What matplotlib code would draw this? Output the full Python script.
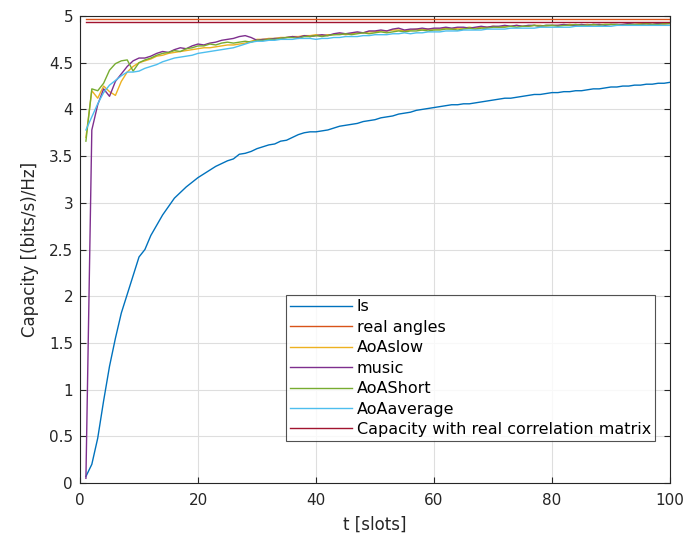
import numpy as np
import matplotlib
matplotlib.use("Agg")
import matplotlib.pyplot as plt

# time slots
t = np.arange(1, 101)

ls = [0.07, 0.20, 0.48, 0.88, 1.25, 1.55, 1.82, 2.02, 2.22, 2.42,
      2.50, 2.65, 2.76, 2.87, 2.96, 3.05, 3.11, 3.17, 3.22, 3.27,
      3.31, 3.35, 3.39, 3.42, 3.45, 3.47, 3.52, 3.53, 3.55, 3.58,
      3.60, 3.62, 3.63, 3.66, 3.67, 3.70, 3.73, 3.75, 3.76, 3.76,
      3.77, 3.78, 3.80, 3.82, 3.83, 3.84, 3.85, 3.87, 3.88, 3.89,
      3.91, 3.92, 3.93, 3.95, 3.96, 3.97, 3.99, 4.00, 4.01, 4.02,
      4.03, 4.04, 4.05, 4.05, 4.06, 4.06, 4.07, 4.08, 4.09, 4.10,
      4.11, 4.12, 4.12, 4.13, 4.14, 4.15, 4.16, 4.16, 4.17, 4.18,
      4.18, 4.19, 4.19, 4.20, 4.20, 4.21, 4.22, 4.22, 4.23, 4.24,
      4.24, 4.25, 4.25, 4.26, 4.26, 4.27, 4.27, 4.28, 4.28, 4.29]

real_angles = 4.972
real_corr = 4.938

aoa_slow = [3.70, 4.20, 4.12, 4.25, 4.19, 4.15, 4.30, 4.40, 4.46, 4.50,
            4.52, 4.54, 4.57, 4.58, 4.60, 4.61, 4.62, 4.63, 4.64, 4.65,
            4.66, 4.66, 4.67, 4.68, 4.69, 4.69, 4.70, 4.71, 4.73, 4.75,
            4.75, 4.76, 4.76, 4.77, 4.77, 4.78, 4.78, 4.79, 4.79, 4.80,
            4.79, 4.80, 4.80, 4.81, 4.80, 4.81, 4.82, 4.82, 4.83, 4.83,
            4.84, 4.84, 4.85, 4.85, 4.84, 4.85, 4.86, 4.85, 4.86, 4.86,
            4.86, 4.87, 4.86, 4.87, 4.87, 4.88, 4.87, 4.88, 4.88, 4.89,
            4.88, 4.89, 4.89, 4.90, 4.89, 4.89, 4.90, 4.90, 4.89, 4.90,
            4.90, 4.90, 4.91, 4.90, 4.90, 4.91, 4.90, 4.91, 4.91, 4.91,
            4.90, 4.91, 4.91, 4.91, 4.92, 4.91, 4.91, 4.92, 4.91, 4.92]

music = [0.05, 3.78, 4.05, 4.22, 4.14, 4.30, 4.38, 4.46, 4.52, 4.55,
         4.55, 4.57, 4.60, 4.62, 4.61, 4.64, 4.66, 4.65, 4.68, 4.70,
         4.69, 4.71, 4.72, 4.74, 4.75, 4.76, 4.78, 4.79, 4.77, 4.74,
         4.75, 4.75, 4.76, 4.76, 4.77, 4.78, 4.77, 4.79, 4.78, 4.79,
         4.80, 4.79, 4.81, 4.82, 4.81, 4.82, 4.83, 4.82, 4.84, 4.84,
         4.85, 4.84, 4.86, 4.87, 4.85, 4.86, 4.86, 4.87, 4.86, 4.87,
         4.87, 4.88, 4.87, 4.88, 4.88, 4.87, 4.88, 4.89, 4.88, 4.89,
         4.89, 4.90, 4.89, 4.90, 4.89, 4.90, 4.90, 4.89, 4.90, 4.90,
         4.90, 4.91, 4.90, 4.90, 4.91, 4.90, 4.91, 4.91, 4.90, 4.91,
         4.91, 4.91, 4.92, 4.91, 4.91, 4.92, 4.91, 4.92, 4.92, 4.92]

aoa_short = [3.66, 4.22, 4.20, 4.28, 4.42, 4.49, 4.52, 4.53, 4.41, 4.50,
             4.53, 4.55, 4.58, 4.60, 4.61, 4.63, 4.62, 4.65, 4.66, 4.68,
             4.68, 4.70, 4.69, 4.71, 4.72, 4.71, 4.72, 4.73, 4.72, 4.74,
             4.74, 4.75, 4.75, 4.76, 4.77, 4.77, 4.76, 4.78, 4.78, 4.79,
             4.78, 4.79, 4.80, 4.80, 4.81, 4.80, 4.81, 4.82, 4.81, 4.82,
             4.83, 4.82, 4.83, 4.84, 4.83, 4.84, 4.84, 4.85, 4.84, 4.85,
             4.85, 4.86, 4.86, 4.85, 4.86, 4.87, 4.86, 4.87, 4.87, 4.88,
             4.88, 4.88, 4.89, 4.88, 4.89, 4.89, 4.90, 4.89, 4.90, 4.90,
             4.89, 4.90, 4.90, 4.91, 4.90, 4.90, 4.91, 4.90, 4.91, 4.91,
             4.91, 4.90, 4.91, 4.91, 4.91, 4.92, 4.91, 4.91, 4.92, 4.92]

aoa_average = [3.78, 3.92, 4.06, 4.18, 4.26, 4.31, 4.36, 4.40, 4.40, 4.41,
               4.44, 4.46, 4.48, 4.51, 4.53, 4.55, 4.56, 4.57, 4.58, 4.60,
               4.61, 4.62, 4.63, 4.64, 4.65, 4.66, 4.68, 4.70, 4.72, 4.73,
               4.73, 4.74, 4.74, 4.75, 4.75, 4.75, 4.76, 4.76, 4.76, 4.75,
               4.76, 4.76, 4.77, 4.77, 4.78, 4.78, 4.78, 4.79, 4.79, 4.80,
               4.80, 4.80, 4.81, 4.81, 4.82, 4.81, 4.82, 4.82, 4.83, 4.83,
               4.83, 4.84, 4.84, 4.84, 4.85, 4.85, 4.85, 4.85, 4.86, 4.86,
               4.86, 4.86, 4.87, 4.87, 4.87, 4.87, 4.87, 4.88, 4.88, 4.88,
               4.88, 4.88, 4.88, 4.89, 4.89, 4.89, 4.89, 4.89, 4.89, 4.89,
               4.90, 4.90, 4.90, 4.90, 4.90, 4.90, 4.90, 4.90, 4.90, 4.90]

labels = ["ls", "real angles", "AoAslow", "music", "AoAShort", "AoAaverage",
          "Capacity with real correlation matrix"]
colors = ["#0072bd", "#d95319", "#edb120", "#7e2f8e", "#77ac30", "#4dbeee", "#a2142f"]

series = [ls, np.full(len(t), real_angles), aoa_slow, music, aoa_short,
          aoa_average, np.full(len(t), real_corr)]

fig = plt.figure(figsize=(6.91, 5.41), dpi=100)
ax = fig.add_axes([0.1158, 0.1072, 0.8538, 0.8632])

for y, lab, c in zip(series, labels, colors):
    ax.plot(t, y, color=c, lw=1.0, label=lab)

axcol = "#262626"
ax.set_xlim(0, 100)
ax.set_ylim(0, 5)
ax.set_xticks(np.arange(0, 101, 20))
ax.set_yticks(np.arange(0, 5.01, 0.5))
ax.set_yticklabels(["0", "0.5", "1", "1.5", "2", "2.5", "3", "3.5", "4", "4.5", "5"])
ax.grid(True, color="#dedede", lw=0.8)
ax.set_axisbelow(True)
ax.tick_params(direction="in", top=True, right=True, length=4, width=0.8,
               colors=axcol, labelsize=11)
ax.tick_params(axis="x", pad=7)
ax.tick_params(axis="y", pad=5)
for s in ax.spines.values():
    s.set_color(axcol)
    s.set_linewidth(0.8)

ax.set_xlabel("t [slots]", fontsize=12, color=axcol, labelpad=6)
ax.set_ylabel("Capacity [(bits/s)/Hz]", fontsize=12, color=axcol, labelpad=7)

leg = ax.legend(loc="lower right", bbox_to_anchor=(0.9746, 0.0899), fontsize=11.5,
                frameon=True, fancybox=False, edgecolor=axcol, handlelength=3.9,
                handletextpad=0.3, labelspacing=0.34, borderpad=0.25, borderaxespad=0)
leg.get_frame().set_linewidth(0.8)

fig.savefig("out.png", dpi=100)
